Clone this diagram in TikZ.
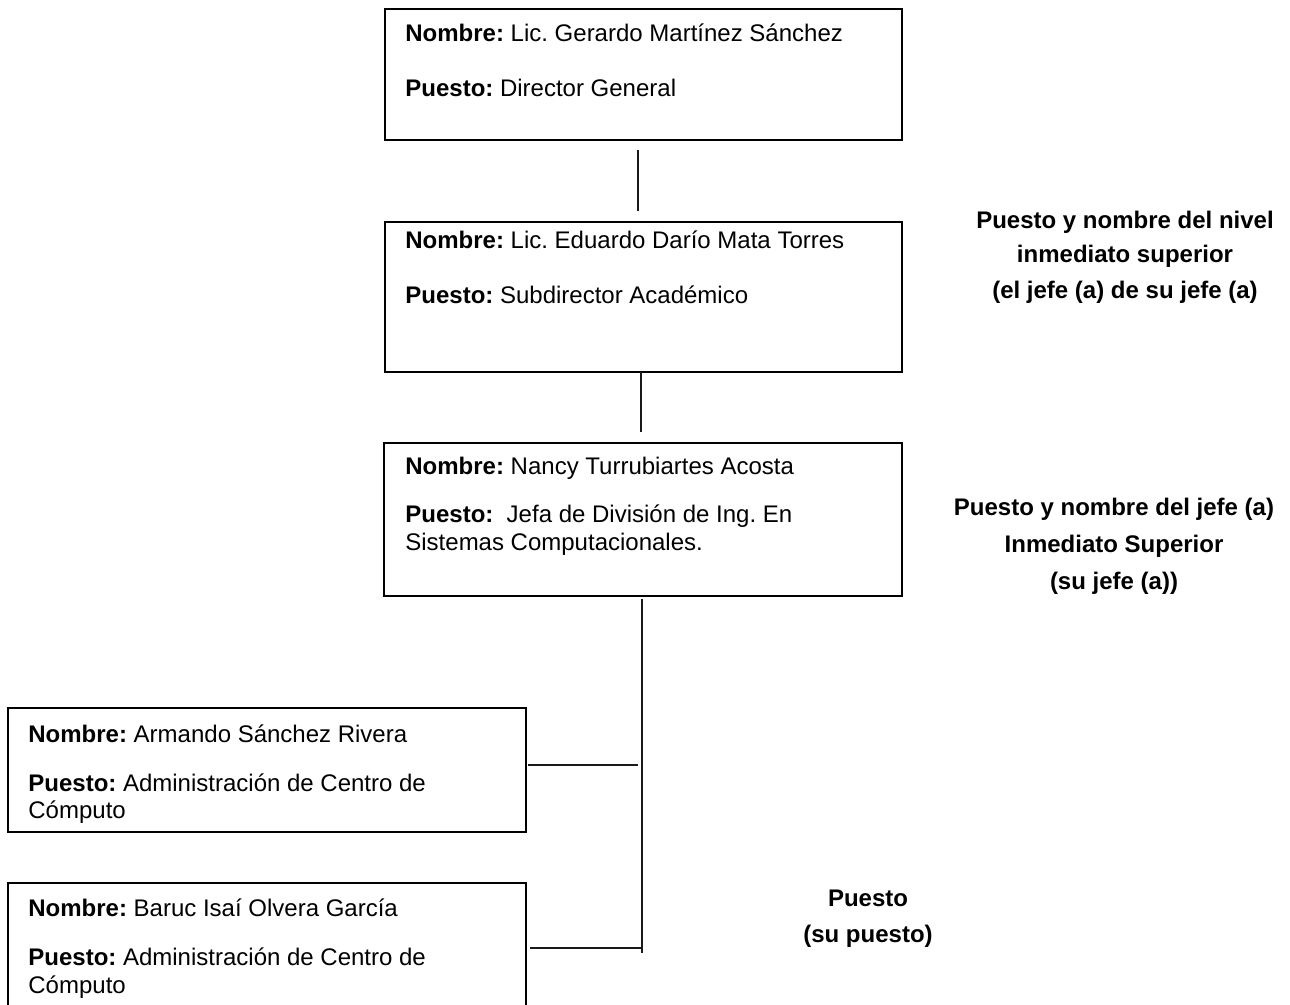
\documentclass[tikz,border=0pt]{standalone}
\usepackage{fontspec}
\setmainfont{Liberation Sans}
\usetikzlibrary{calc}
\frenchspacing
\begin{document}
\begin{tikzpicture}[x=0.5pt,y=-0.5pt,
  box/.style={draw=black, line width=0.8pt, inner sep=0pt, outer sep=0pt,
    anchor=north west, minimum width=259pt},
  txt/.style={anchor=base west, inner sep=0pt, font=\fontsize{12}{14}\selectfont},
  lbl/.style={anchor=base, inner sep=0pt, font=\fontsize{12}{14}\selectfont\bfseries},
  link/.style={draw=black!90, line width=1pt}]
\useasboundingbox (0,0) rectangle (1290,1005);

% boxes
\node[box, minimum width=258.5pt, minimum height=65.5pt] (b1) at (385,9) {};
\node[box, minimum width=258.5pt, minimum height=75pt] (b2) at (385,222) {};
\node[box, minimum height=76.5pt] (b3) at (384,443) {};
\node[box, minimum height=62pt] (l1) at (8,708) {};
\node[box, minimum height=65pt] (l2) at (8,883) {};

% box contents
\node[txt] (b1n) at (405,42) {\textbf{Nombre:} Lic. Gerardo Martínez Sánchez};
\node[txt] (b1p) at (405,97) {\textbf{Puesto:} Director General};
\node[txt] (b2n) at (405,249) {\textbf{Nombre:} Lic. Eduardo Darío Mata Torres};
\node[txt] (b2p) at (405,304) {\textbf{Puesto:} Subdirector Académico};
\node[txt] (b3n) at (405,474) {\textbf{Nombre:} Nancy Turrubiartes Acosta};
\node[txt] (b3p) at (405,522) {\textbf{Puesto:}\ \ Jefa de División de Ing. En};
\node[txt] (b3q) at (405,550) {Sistemas Computacionales.};
\node[txt] (l1n) at (28,742) {\textbf{Nombre:} Armando Sánchez Rivera};
\node[txt] (l1p) at (28,791) {\textbf{Puesto:} Administración de Centro de};
\node[txt] (l1q) at (28,818) {Cómputo};
\node[txt] (l2n) at (28,916) {\textbf{Nombre:} Baruc Isaí Olvera García};
\node[txt] (l2p) at (28,965) {\textbf{Puesto:} Administración de Centro de};
\node[txt] (l2q) at (28,993) {Cómputo};

% side labels
\node[lbl] (s1a) at (1125,229) {Puesto y nombre del nivel};
\node[lbl] (s1b) at (1125,263) {inmediato superior};
\node[lbl] (s1c) at (1125,299) {(el jefe (a) de su jefe (a)};
\node[lbl] (s2a) at (1114,515) {Puesto y nombre del jefe (a)};
\node[lbl] (s2b) at (1114,552) {Inmediato Superior};
\node[lbl] (s2c) at (1114,589) {(su jefe (a))};
\node[lbl] (s3a) at (868,906) {Puesto};
\node[lbl] (s3b) at (868,942) {(su puesto)};

% connectors
\coordinate (trunk) at (642,953);
\coordinate (j1) at (638,765);
\coordinate (j2) at (641,948);
\draw[link] ($(b1.south)+(-5.5,10)$) -- ($(b2.north)+(-5.5,-11)$);
\draw[link] ($(b2.south)+(-2.5,0)$) -- ($(b3.north)+(-2,-11)$);
\draw[link] ($(b3.south)+(-1,3)$) -- (trunk);
\draw[link] ($(l1.east |- j1)+(2,0)$) -- (j1);
\draw[link] ($(l2.east |- j2)+(4,0)$) -- (j2);
\end{tikzpicture}
\end{document}
